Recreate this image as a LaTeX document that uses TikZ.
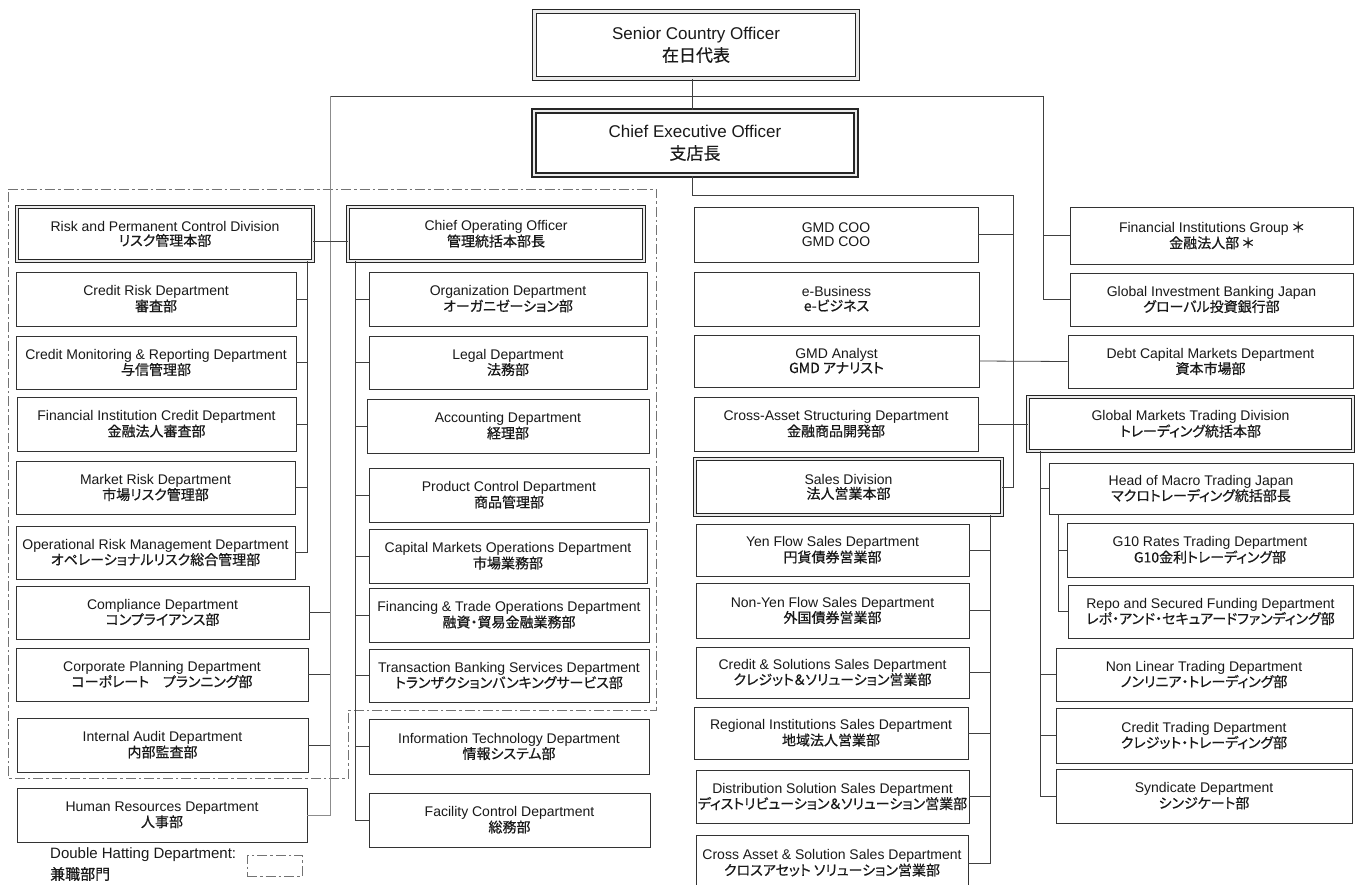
\documentclass[tikz,border=0pt]{standalone}
\usepackage{fontspec}
\setmainfont{Liberation Sans}
\newfontfamily\jp[RawFeature=+palt, FakeBold=0.6]{Noto Sans CJK JP}
\tikzset{
  box/.style={draw=black!80, line width=0.9pt, fill=white, align=center, inner sep=0pt, text=black!90,
              font=\fontsize{14}{14.5}\selectfont},
  dbox/.style={box, draw=black!85, double=black!8, double distance=2pt, line width=1.2pt},
  bigbox/.style={box, draw=black!85, double=black!8, double distance=2.4pt, line width=1.2pt, font=\fontsize{17}{22}\selectfont},
  ceobox/.style={bigbox, line width=1.6pt, double distance=2.2pt},
  conn/.style={draw=black!75, line width=0.8pt},
  gconn/.style={draw=black!45, line width=0.8pt},
  dashdot/.style={draw=black!55, line width=0.8pt, dash pattern=on 10pt off 3pt on 2.5pt off 3pt},
  legtext/.style={anchor=west, inner sep=0pt, font=\fontsize{15}{16}\selectfont, text=black!90},
}
\newcommand\bx[7][box]{\pgfmathsetmacro\bxw{#5-#3}\pgfmathsetmacro\bxh{#6-#4}%
  \node[#1, minimum width=\bxw pt, minimum height=\bxh pt] (#2) at ({(#3+#5)/2},{(#4+#6)/2}) {#7};}
\begin{document}
\begin{tikzpicture}[x=1pt,y=-1pt]
\useasboundingbox (0,0) rectangle (1359,885);
\fill[white] (0,0) rectangle (1359,885);

% double hatting region
\draw[dashdot] (8,189) -- (656,189) -- (656,710) -- (348,710) -- (348,778) -- (8,778) -- cycle;

% top
\bx[bigbox]{sco}{534.5}{11.5}{857.5}{78.5}{Senior Country Officer\\{\jp 在日代表}}
\bx[ceobox]{ceo}{534}{111}{856}{175}{Chief Executive Officer\\{\jp 支店長}}

% left column
\bx[dbox]{risk}{17.2}{207.2}{312.8}{260.8}{Risk and Permanent Control Division\\{\jp リスク管理本部}}
\bx{crisk}{16}{272}{296}{326}{Credit Risk Department\\{\jp 審査部}}
\bx{cmon}{16}{336}{296}{389}{Credit Monitoring \& Reporting Department\\{\jp 与信管理部}}
\bx{ficr}{17}{397}{296}{451}{Financial Institution Credit Department\\{\jp 金融法人審査部}}
\bx{mrisk}{16}{461}{295}{514}{Market Risk Department\\{\jp 市場リスク管理部}}
\bx{oprisk}{16}{526}{295}{579}{Operational Risk Management Department\\{\jp オペレーショナルリスク総合管理部}}
\bx{comp}{16}{586}{309}{639}{Compliance Department\\{\jp コンプライアンス部}}
\bx{cplan}{16}{648}{308}{701}{Corporate Planning Department\\{\jp コーポレート　プランニング部}}
\bx{iaud}{17}{718}{308}{772}{Internal Audit Department\\{\jp 内部監査部}}
\bx{hr}{17}{788}{307}{842}{Human Resources Department\\{\jp 人事部}}

% middle column
\bx[dbox]{coo}{348.2}{207.2}{643.8}{260.8}{Chief Operating Officer\\{\jp 管理統括本部長}}
\bx{org}{369}{272}{647}{326}{Organization Department\\{\jp オーガニゼーション部}}
\bx{legal}{369}{336}{647}{389}{Legal Department\\{\jp 法務部}}
\bx{acct}{367}{399}{649}{453}{Accounting Department\\{\jp 経理部}}
\bx{prodc}{369}{468}{649}{522}{Product Control Department\\{\jp 商品管理部}}
\bx{cmo}{369}{529}{647}{583}{Capital Markets Operations Department\\{\jp 市場業務部}}
\bx{fto}{369}{588}{649}{642}{Financing \& Trade Operations Department\\{\jp 融資・貿易金融業務部}}
\bx{tbs}{369}{649}{649}{702}{Transaction Banking Services Department\\{\jp トランザクションバンキングサービス部}}
\bx{itd}{369}{719}{649}{774}{Information Technology Department\\{\jp 情報システム部}}
\bx{fac}{369}{793}{650}{847}{Facility Control Department\\{\jp 総務部}}

% centre column
\bx{gmdcoo}{694}{207}{978}{262}{GMD COO\\GMD COO}
\bx{ebiz}{694}{272}{979}{326}{e-Business\\{\jp e-ビジネス}}
\bx{gmda}{694}{335}{979}{387}{GMD Analyst\\{\jp GMD アナリスト}}
\bx{cas}{694}{397}{978}{451}{Cross-Asset Structuring Department\\{\jp 金融商品開発部}}
\bx[dbox]{sales}{695.2}{459.2}{1001.8}{514.8}{Sales Division\\{\jp 法人営業本部}}
\bx{yen}{696}{524}{969}{576}{Yen Flow Sales Department\\{\jp 円貨債券営業部}}
\bx{nonyen}{696}{583}{969}{638}{Non-Yen Flow Sales Department\\{\jp 外国債券営業部}}
\bx{csol}{696}{647}{969}{698}{Credit \& Solutions Sales Department\\{\jp クレジット＆ソリューション営業部}}
\bx{reg}{694}{707}{968}{759}{Regional Institutions Sales Department\\{\jp 地域法人営業部}}
\bx{dist}{696}{770}{969}{823}{Distribution Solution Sales Department\\{\jp ディストリビューション＆ソリューション営業部}}
\bx{xasset}{696}{835}{968}{891}{Cross Asset \& Solution Sales Department\\{\jp クロスアセット ソリューション営業部}}

% right column
\bx{fig}{1070}{207}{1353}{264}{Financial Institutions Group {\jp ＊}\\{\jp 金融法人部 ＊}}
\bx{gibj}{1070}{273}{1353}{326}{Global Investment Banking Japan\\{\jp グローバル投資銀行部}}
\bx{dcm}{1068}{335}{1353}{388}{Debt Capital Markets Department\\{\jp 資本市場部}}
\bx[dbox]{gmtd}{1028.2}{397.2}{1352.8}{450.8}{Global Markets Trading Division\\{\jp トレーディング統括本部}}
\bx{hom}{1049}{463}{1353}{514}{Head of Macro Trading Japan\\{\jp マクロトレーディング統括部長}}
\bx{gten}{1067}{523}{1353}{577}{G10 Rates Trading Department\\{\jp G10金利トレーディング部}}
\bx{repo}{1068}{585}{1353}{638}{Repo and Secured Funding Department\\{\jp レポ・アンド・セキュアードファンディング部}}
\bx{nlt}{1056}{648}{1352}{701}{Non Linear Trading Department\\{\jp ノンリニア・トレーディング部}}
\bx{ctd}{1056}{708}{1352}{763}{Credit Trading Department\\{\jp クレジット・トレーディング部}}
\bx{synd}{1056}{769}{1352}{823}{Syndicate Department\\{\jp シンジケート部}}

% legend
\node[legtext] (leg1) at (50,855) {Double Hatting Department:};
\node[legtext] (leg2) at (50,874) {\jp 兼職部門};
\node[dashdot, minimum width=55pt, minimum height=21pt, inner sep=0pt] (legbox) at (274.5,865.5) {};

% connectors
\coordinate (sx) at (692,0);
\coordinate (jL) at (330,96);
\coordinate (jR) at (1043,96);
\draw[conn] (sco.south -| sx) -- (ceo.north -| sx);
\draw[conn] (jL) -- (jR);
\draw[gconn] (jL) |- (hr.east);
\foreach \n in {comp,cplan,iaud} \draw[conn] (\n.east) -- (\n.east -| jL);
\draw[conn] (jR) |- (gibj.west);
\draw[conn] (fig.west) -- (fig.west -| jR);

\coordinate (cR) at (1013,195);
\draw[conn] (ceo.south -| sx) |- (cR) |- (sales.east);
\draw[conn] (gmdcoo.east) -- (gmdcoo.east -| cR);
\draw[conn] (gmda.east) -- (dcm.west);
\draw[conn] (cas.east) -- (gmtd.west);

\draw[conn] ([yshift=-7pt]risk.east) -- ([yshift=-7pt]coo.west);
\coordinate (rv) at (307,0);
\draw[conn] (risk.south -| rv) |- (oprisk.east);
\foreach \n in {crisk,cmon,ficr,mrisk} \draw[conn] (\n.east) -- (\n.east -| rv);

\coordinate (cv) at (355,0);
\draw[conn] (coo.south -| cv) |- (fac.west);
\foreach \n in {org,legal,acct,prodc,cmo,fto,tbs,itd} \draw[conn] (\n.west) -- (\n.west -| cv);

\coordinate (sv) at (990,0);
\draw[conn] (sales.south -| sv) |- (xasset.east);
\foreach \n in {yen,nonyen,csol,reg,dist} \draw[conn] (\n.east) -- (\n.east -| sv);

\coordinate (gv) at (1040,0);
\draw[conn] (gmtd.south -| gv) |- (synd.west);
\foreach \n in {hom,nlt,ctd} \draw[conn] (\n.west) -- (\n.west -| gv);

\coordinate (hv) at (1058,0);
\draw[conn] (hom.south -| hv) |- (repo.west);
\draw[conn] (gten.west) -- (gten.west -| hv);
\end{tikzpicture}
\end{document}
